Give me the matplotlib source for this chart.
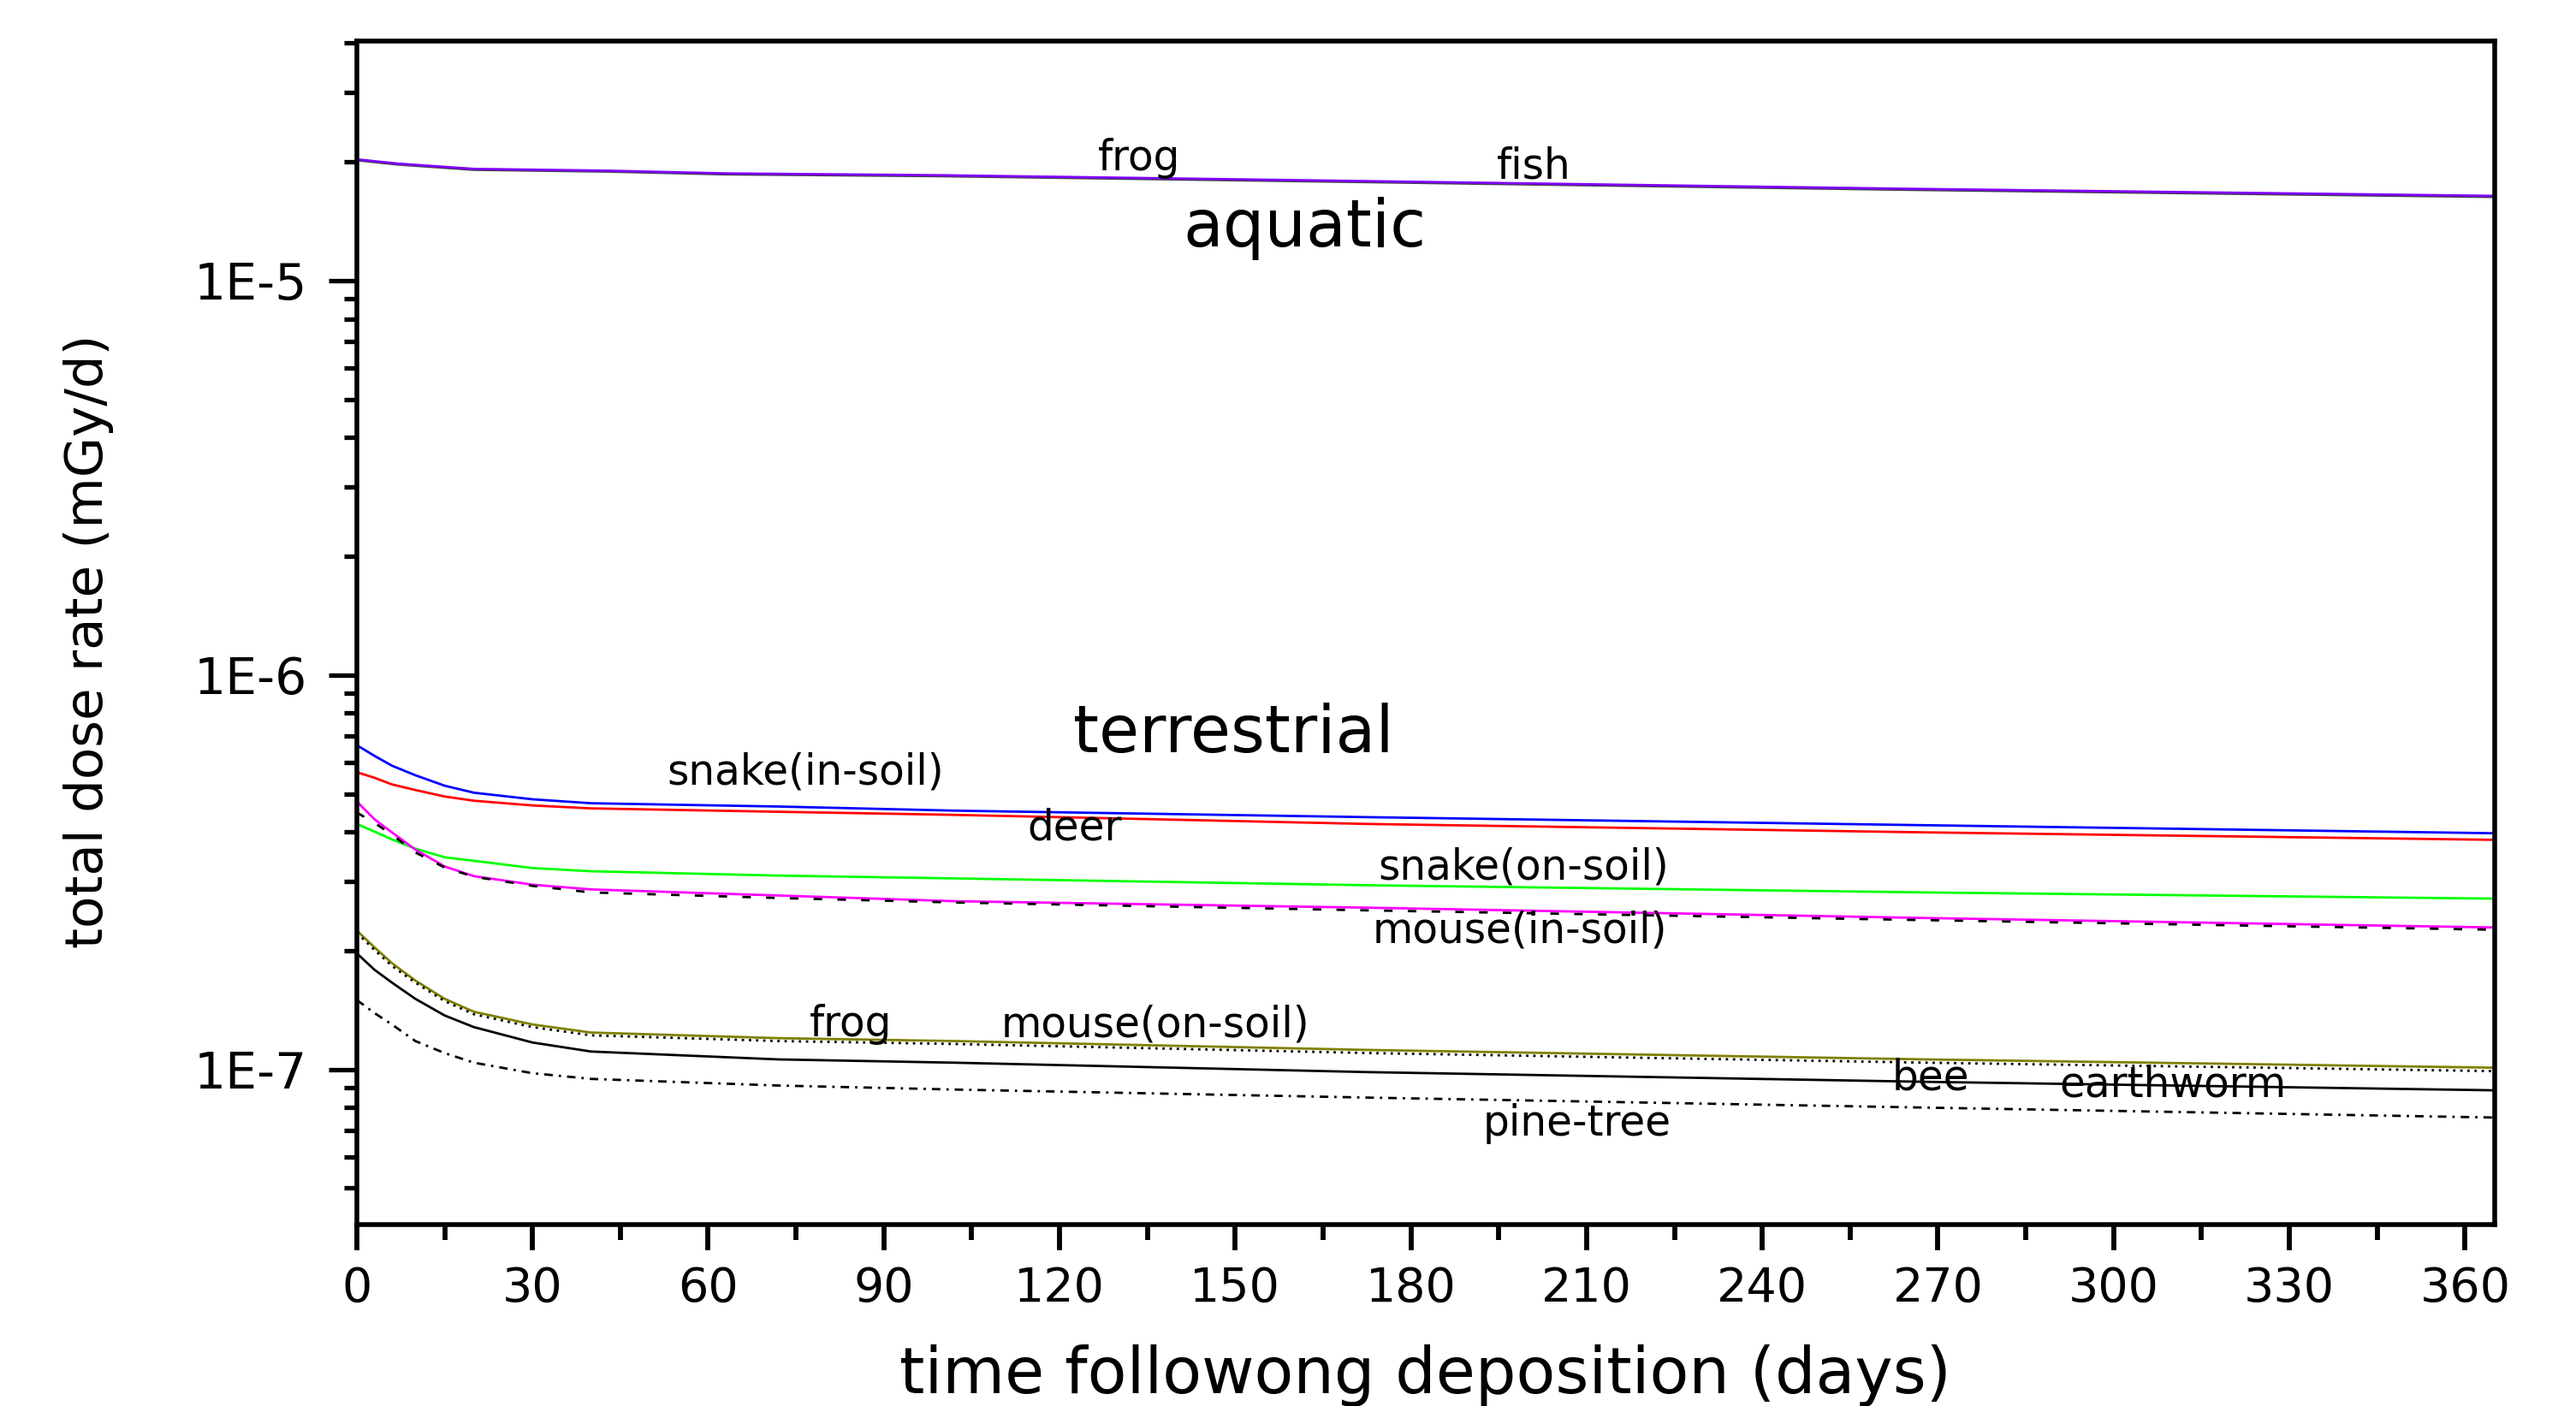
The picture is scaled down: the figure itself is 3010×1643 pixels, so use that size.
import numpy as np
import matplotlib.pyplot as plt
from matplotlib.ticker import LogLocator, FuncFormatter, NullFormatter, MultipleLocator

# aquatic organisms (mGy/d)
days_aq = [0, 7, 20, 43, 63, 100, 158, 264, 365]
aq_frog = [2.03e-5, 1.98e-5, 1.92e-5, 1.90e-5, 1.87e-5, 1.85e-5, 1.80e-5, 1.71e-5, 1.64e-5]
aq_fish = [2.02e-5, 1.97e-5, 1.91e-5, 1.89e-5, 1.86e-5, 1.84e-5, 1.79e-5, 1.70e-5, 1.63e-5]

# terrestrial organisms (mGy/d)
days_t = [0, 3, 6, 10, 15, 20, 30, 40, 72, 102, 173, 268, 365]
snake_in = [6.64e-7, 6.24e-7, 5.89e-7, 5.57e-7, 5.24e-7, 5.03e-7, 4.84e-7, 4.73e-7, 4.64e-7, 4.53e-7, 4.36e-7, 4.16e-7, 3.97e-7]
deer = [5.67e-7, 5.49e-7, 5.28e-7, 5.11e-7, 4.92e-7, 4.80e-7, 4.67e-7, 4.59e-7, 4.50e-7, 4.42e-7, 4.19e-7, 3.99e-7, 3.82e-7]
snake_on = [4.19e-7, 4.01e-7, 3.83e-7, 3.63e-7, 3.45e-7, 3.38e-7, 3.24e-7, 3.18e-7, 3.10e-7, 3.05e-7, 2.93e-7, 2.81e-7, 2.71e-7]
mouse_in = [4.78e-7, 4.31e-7, 3.99e-7, 3.61e-7, 3.27e-7, 3.09e-7, 2.94e-7, 2.86e-7, 2.76e-7, 2.67e-7, 2.57e-7, 2.42e-7, 2.29e-7]
earthworm = [4.48e-7, 4.22e-7, 3.94e-7, 3.55e-7, 3.25e-7, 3.08e-7, 2.92e-7, 2.81e-7, 2.72e-7, 2.65e-7, 2.53e-7, 2.39e-7, 2.26e-7]
t_frog = [2.25e-7, 2.04e-7, 1.86e-7, 1.68e-7, 1.51e-7, 1.40e-7, 1.30e-7, 1.24e-7, 1.20e-7, 1.18e-7, 1.12e-7, 1.06e-7, 1.01e-7]
mouse_on = [2.22e-7, 2.01e-7, 1.83e-7, 1.66e-7, 1.49e-7, 1.38e-7, 1.28e-7, 1.22e-7, 1.18e-7, 1.16e-7, 1.10e-7, 1.04e-7, 0.99e-7]
bee = [1.97e-7, 1.79e-7, 1.66e-7, 1.51e-7, 1.37e-7, 1.28e-7, 1.17e-7, 1.11e-7, 1.06e-7, 1.04e-7, 0.984e-7, 0.93e-7, 0.885e-7]
pine_tree = [1.50e-7, 1.39e-7, 1.30e-7, 1.18e-7, 1.10e-7, 1.04e-7, 0.978e-7, 0.946e-7, 0.91e-7, 0.889e-7, 0.848e-7, 0.80e-7, 0.755e-7]

# label text, x (day), y (baseline value)
label_text = ["frog", "fish", "aquatic", "terrestrial", "snake(in-soil)", "deer",
              "snake(on-soil)", "mouse(in-soil)", "frog", "mouse(on-soil)",
              "bee", "earthworm", "pine-tree"]
label_x = [133.6, 201, 161.9, 149.7, 76.6, 122.6, 199.2, 198.6, 84.4, 136.4, 268.8, 310.1, 208.4]
label_y = [1.90e-5, 1.82e-5, 1.22e-5, 6.37e-7, 5.28e-7, 3.82e-7, 3.03e-7, 2.10e-7, 1.21e-7, 1.21e-7, 8.89e-8, 8.53e-8, 6.78e-8]

plt.rcParams['font.family'] = 'DejaVu Sans'

fig = plt.figure(figsize=(15.05, 8.215), dpi=200)
ax = fig.add_axes([0.1385, 0.1293, 0.8298, 0.8415])

lw = 1.0
ax.plot(days_aq, aq_fish, color='#404040', lw=lw)
ax.plot(days_aq, aq_frog, color='#8000ff', lw=lw)

ax.plot(days_t, snake_in, color='#0000ff', lw=lw)
ax.plot(days_t, deer, color='#ff0000', lw=lw)
ax.plot(days_t, snake_on, color='#00ff00', lw=lw)
ax.plot(days_t, mouse_in, color='#ff00ff', lw=lw)
ax.plot(days_t, earthworm, color='black', lw=lw, dashes=(3.6, 6.4))
ax.plot(days_t, t_frog, color='#808000', lw=lw)
ax.plot(days_t, mouse_on, color='black', lw=lw, dashes=(1, 2))
ax.plot(days_t, bee, color='black', lw=lw)
ax.plot(days_t, pine_tree, color='black', lw=lw, dashes=(3.6, 2.5, 1, 2.5))

# curve labels
for i, txt in enumerate(label_text):
    size = 27.5 if txt in ("aquatic", "terrestrial") else 17.5
    ax.text(label_x[i], label_y[i], txt, fontsize=size, ha='center', va='baseline')

ax.set_yscale('log')
ax.set_xlim(0, 365)
ax.set_ylim(4.05e-8, 4.05e-5)

ax.xaxis.set_major_locator(MultipleLocator(30))
ax.xaxis.set_minor_locator(MultipleLocator(15))
ax.yaxis.set_major_locator(LogLocator(base=10, numticks=10))
ax.yaxis.set_minor_locator(LogLocator(base=10, subs=np.arange(2, 10), numticks=20))
ax.yaxis.set_major_formatter(FuncFormatter(lambda v, p: "1E%d" % round(np.log10(v))))
ax.yaxis.set_minor_formatter(NullFormatter())

ax.tick_params(axis='x', which='major', direction='out', length=10.8, width=2.1, pad=6.5, labelsize=20)
ax.tick_params(axis='x', which='minor', direction='out', length=6.3, width=2.1)
ax.tick_params(axis='y', which='major', direction='out', length=11.9, width=1.9, pad=9, labelsize=21)
ax.tick_params(axis='y', which='minor', direction='out', length=5.4, width=1.9)

for s in ax.spines.values():
    s.set_linewidth(2.0)

ax.set_xlabel("time followong deposition (days)", fontsize=27, va='baseline')
ax.xaxis.set_label_coords(0.5, -0.1429)
ax.set_ylabel("total dose rate (mGy/d)", fontsize=22, va='center')
ax.yaxis.set_label_coords(-0.1253, 0.4929)

plt.savefig('out.png', dpi=200)
plt.close()
